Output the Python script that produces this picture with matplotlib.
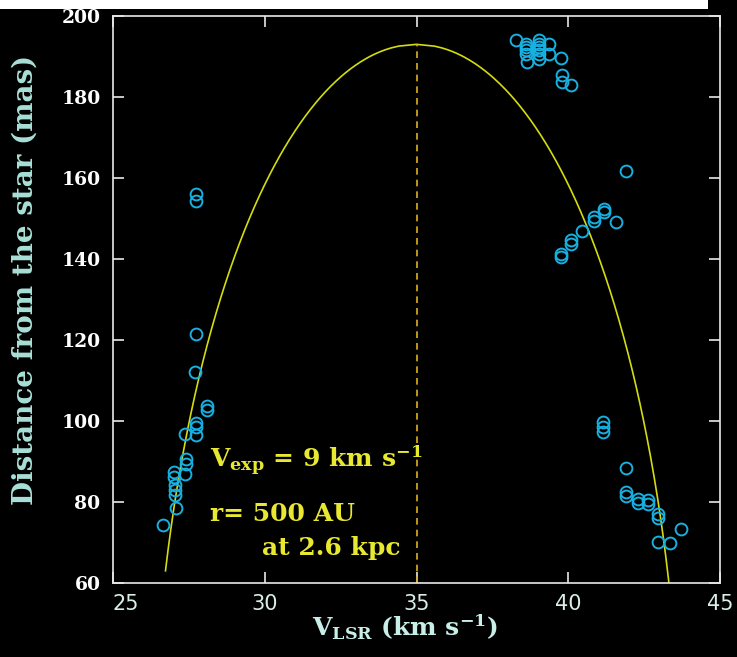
import numpy as np
import matplotlib.pyplot as plt
from matplotlib.patches import Rectangle

plt.rcParams['mathtext.fontset'] = 'custom'
plt.rcParams['mathtext.rm'] = 'DejaVu Serif:bold'
plt.rcParams['mathtext.it'] = 'DejaVu Serif:bold'
plt.rcParams['mathtext.bf'] = 'DejaVu Serif:bold'
plt.rcParams['mathtext.default'] = 'rm'

# maser spots, blue-shifted side (V_LSR km/s, distance mas)
v_blue = [27.73, 27.73, 27.73, 27.70, 28.11, 28.11, 27.73, 27.73, 27.37, 27.73,
          27.40, 27.40, 27.37, 27.01, 27.01, 27.04, 27.04, 27.04, 27.08, 26.66]
d_blue = [156.0, 154.3, 121.6, 112.0, 103.6, 102.6, 99.4, 98.5, 96.9, 96.5,
          90.5, 89.5, 87.0, 87.4, 86.2, 84.1, 82.9, 81.7, 78.4, 74.3]

# red-shifted side, top group near the apex
v_top = [38.28, 38.61, 38.61, 38.61, 38.61, 38.63, 39.05, 39.05, 39.05, 39.05,
         39.05, 39.05, 39.38, 39.38, 39.76, 39.78, 39.78, 40.09]
d_top = [194.0, 193.2, 192.3, 191.5, 190.7, 188.6, 194.0, 193.2, 192.3, 191.5,
         190.5, 189.5, 193.2, 190.5, 189.7, 185.5, 183.6, 182.9]

# red-shifted side, middle group
v_mid = [41.90, 41.18, 41.18, 40.85, 40.85, 41.57, 40.44, 40.09, 40.09, 39.75, 39.75]
d_mid = [161.7, 152.4, 151.6, 150.4, 149.4, 149.1, 146.9, 144.6, 143.8, 141.3, 140.5]

# red-shifted side, lower group
v_low = [41.16, 41.16, 41.16, 41.90, 41.90, 41.90, 42.31, 42.31, 42.64, 42.64,
         42.97, 42.97, 43.71, 42.97, 43.35]
d_low = [99.8, 98.5, 97.3, 88.5, 82.5, 81.4, 80.8, 79.8, 80.4, 79.4,
         77.1, 76.1, 73.4, 70.1, 69.9]

# expanding shell model
v_sys = 35.0
v_exp = 8.75
r_max = 193.0

fig = plt.figure(figsize=(7.37, 6.57), dpi=100, facecolor='black')
ax = fig.add_axes([113/737, 1 - 583/657, 607/737, 567/657])
ax.set_facecolor('black')

r1 = np.linspace(63, r_max, 300)
r2 = np.linspace(r_max, 60, 300)
v1 = v_sys - v_exp*np.sqrt(1 - (r1/r_max)**2)
v2 = v_sys + v_exp*np.sqrt(1 - (r2/r_max)**2)
ax.plot(np.concatenate([v1, v2]), np.concatenate([r1, r2]), color='#d4dc10', lw=1.2)
ax.plot([v_sys, v_sys], [60, r_max], color='#e0b020', lw=1.2, dashes=(4, 3))

for v, d in [(v_blue, d_blue), (v_top, d_top), (v_mid, d_mid), (v_low, d_low)]:
    ax.plot(v, d, 'o', ls='none', mfc='none', mec='#18b0e0', ms=8.5, mew=1.4)

ax.set_xlim(25, 45)
ax.set_ylim(60, 200)
ax.set_xticks([25, 30, 35, 40, 45])
ax.set_yticks(range(60, 201, 20))
for s in ax.spines.values():
    s.set_color('#e8e8e8')
    s.set_linewidth(1.2)
ax.tick_params(direction='in', length=8, width=1.2, color='#e8e8e8',
               top=True, right=True)
ax.tick_params(axis='y', pad=9, labelcolor='white')
ax.tick_params(axis='x', pad=8, labelcolor='#d8eee8')
for lab in ax.get_yticklabels():
    lab.set_fontfamily('DejaVu Serif')
    lab.set_fontweight('bold')
    lab.set_fontsize(13.5)
for lab in ax.get_xticklabels():
    lab.set_fontfamily('DejaVu Sans')
    lab.set_fontsize(15)
ax.get_xticklabels()[0].set_horizontalalignment('left')

fig.text(25/737, 1 - 280/657, 'Distance from the star (mas)', rotation=90,
         ha='center', va='center', color='#a8e0d8', fontsize=20,
         family='DejaVu Serif', fontweight='bold')
fig.text(405/737, 1 - 636/657, r'V$_{\mathrm{LSR}}$ (km s$^{-1}$)',
         ha='center', va='baseline', color='#c8eee8', fontsize=18,
         family='DejaVu Serif', fontweight='bold')

ann = dict(color='#e8e830', fontsize=18, family='DejaVu Serif',
           fontweight='bold', va='baseline', ha='left')
ax.text(28.2, 88.4, r'V$_{\mathrm{exp}}$ = 9 km s$^{-1}$', **ann)
ax.text(28.2, 75.2, 'r= 500 AU', **ann)
ax.text(29.9, 67.0, 'at 2.6 kpc', **ann)

fig.patches.append(Rectangle((0, 1 - 9/657), 708/737, 9/657, transform=fig.transFigure,
                             facecolor='white', edgecolor='none'))

fig.savefig('out.png', dpi=100, facecolor='black')
